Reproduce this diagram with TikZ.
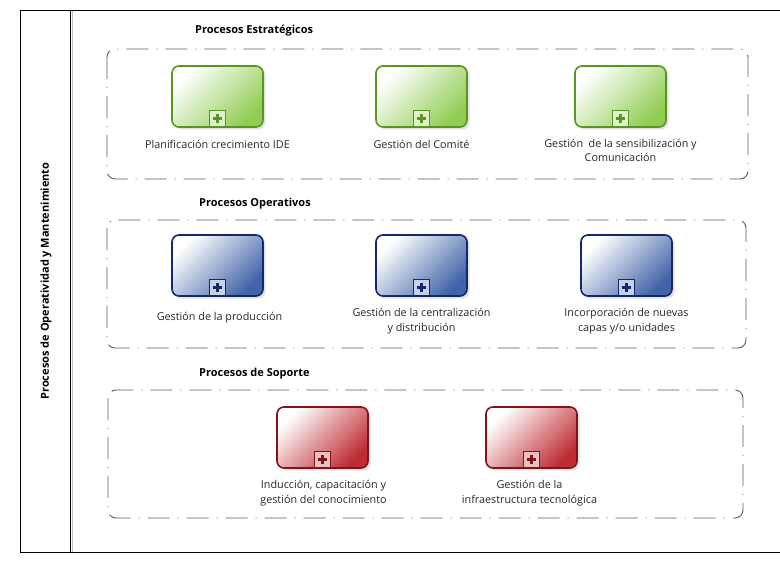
\documentclass[tikz,border=0pt]{standalone}
\usepackage{fontspec}
\setmainfont{Open Sans}
\usetikzlibrary{shadows}

\definecolor{grnline}{RGB}{88,150,30}
\definecolor{grnfill}{RGB}{145,205,85}
\definecolor{blueline}{RGB}{18,40,112}
\definecolor{bluefill}{RGB}{65,100,168}
\definecolor{redline}{RGB}{128,20,24}
\definecolor{redfill}{RGB}{190,45,50}
\definecolor{grpline}{RGB}{90,90,90}

\tikzset{
  task/.style={draw=#1line, line width=1.6pt, rounded corners=7pt,
    minimum width=91pt, minimum height=61pt, inner sep=0pt,
    shading=axis, top color=white, bottom color=#1fill, shading angle=45,
    drop shadow={opacity=0.22, shadow xshift=2.5pt, shadow yshift=-2.5pt}},
  marker/.style={draw=#1line, line width=1.2pt, fill=#1fill!30,
    minimum size=16pt, inner sep=0pt, anchor=south},
  plus/.style={draw=#1line, line width=2.8pt},
  tasklabel/.style={font=\fontsize{10.8}{14.5}\selectfont, align=center, text=black!85, anchor=base, inner sep=0pt},
  grouptitle/.style={font=\fontsize{11}{13}\selectfont\bfseries, anchor=west, inner sep=0pt},
  group/.style={draw=grpline, line width=0.9pt, rounded corners=8pt,
    dash pattern=on 22pt off 8pt on 1pt off 8pt},
}

\newcommand{\mktask}[4]{% name, color, x, y
  \node[task=#2] (#1) at (#3,#4) {};
  \node[marker=#2] (#1m) at ([yshift=0.8pt]#1.south) {};
  \draw[plus=#2] ([xshift=-4.8pt]#1m.center) -- ([xshift=4.8pt]#1m.center);
  \draw[plus=#2] ([yshift=-4.8pt]#1m.center) -- ([yshift=4.8pt]#1m.center);
}

\begin{document}
\begin{tikzpicture}[x=1pt, y=-1pt]
  \useasboundingbox (0,0) rectangle (780,565);

  % pool and lane
  \draw[line width=0.9pt] (20,10) -- (782,10);
  \draw[line width=0.9pt] (20,552) -- (782,552);
  \draw[line width=0.9pt] (20,10) -- (20,552);
  \draw[line width=0.9pt] (70,10) -- (70,552);
  \draw[black!25, line width=1pt] (72,10.5) -- (72,551.5);
  \node[rotate=90, font=\fontsize{11}{13}\selectfont\bfseries, inner sep=0pt] (lane) at (46,281)
    {Procesos de Operatividad y Mantenimiento};

  % groups
  \draw[group] (107,49) rectangle (748,179);
  \node[grouptitle] (t1) at (195,31) {Procesos Estratégicos};
  \draw[group] (107,220) rectangle (746,348);
  \node[grouptitle] (t2) at (199,204) {Procesos Operativos};
  \draw[group] (108,390) rectangle (743,518);
  \node[grouptitle] (t3) at (199,374) {Procesos de Soporte};

  % strategic tasks
  \mktask{s1}{grn}{217.5}{96.5}
  \mktask{s2}{grn}{421.5}{96.5}
  \mktask{s3}{grn}{620.5}{96.5}
  \node[tasklabel] (s1l) at (217.5,148) {Planificación crecimiento IDE};
  \node[tasklabel] (s2l) at (421.5,148) {Gestión del Comité};
  \node[tasklabel] (s3l) at (620.5,161.5) {Gestión\ \ de la sensibilización y\\Comunicación};

  % operative tasks
  \mktask{o1}{blue}{217.5}{265.5}
  \mktask{o2}{blue}{421.5}{265.5}
  \mktask{o3}{blue}{626.5}{265.5}
  \node[tasklabel] (o1l) at (219.5,320) {Gestión de la producción};
  \node[tasklabel] (o2l) at (421.5,331) {Gestión de la centralización\\y distribución};
  \node[tasklabel] (o3l) at (626.5,331) {Incorporación de nuevas\\capas y/o unidades};

  % support tasks
  \mktask{p1}{red}{322.5}{437.5}
  \mktask{p2}{red}{531.5}{437.5}
  \node[tasklabel] (p1l) at (323.5,503) {Inducción, capacitación y\\gestión del conocimiento};
  \node[tasklabel] (p2l) at (529.5,503) {Gestión de la\\infraestructura tecnológica};
\end{tikzpicture}
\end{document}
